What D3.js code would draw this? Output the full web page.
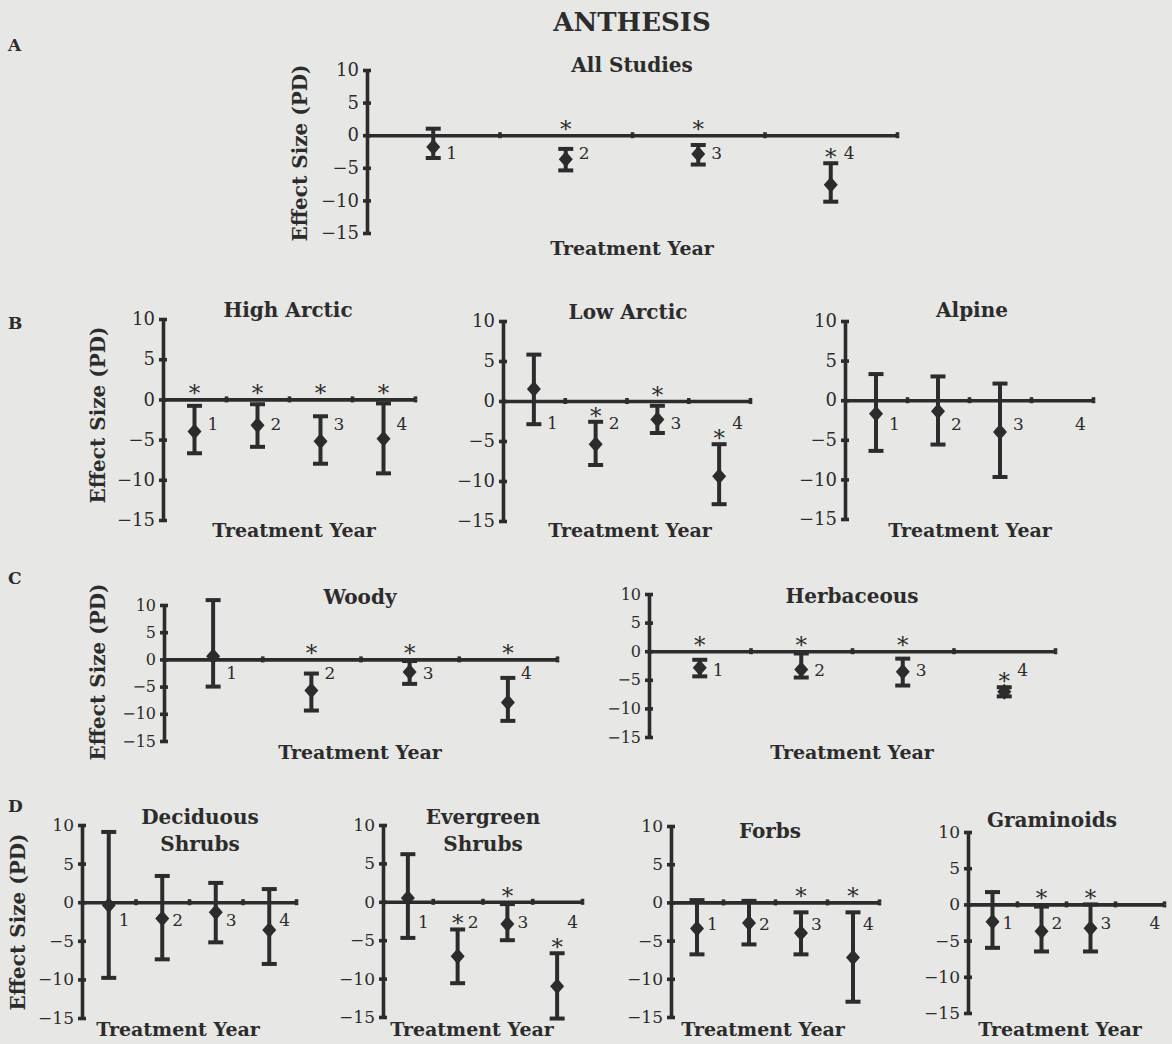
<!DOCTYPE html>
<html>
<head>
<meta charset="utf-8">
<script src="https://cdn.jsdelivr.net/npm/d3@7"></script>
<style>
  body { margin: 0; background: #e7e7e5; }
  svg { display: block; }
  text { font-family: "DejaVu Serif", "Liberation Serif", serif; fill: #2c2c2c; }
</style>
</head>
<body>
<svg id="chart" width="1172" height="1044"></svg>
<script>
// treatment years and y tick values
var years = [1, 2, 3, 4];
var yTicks = [10, 5, 0, -5, -10, -15];

// rows: [year, mean, lower, upper, star]
// star: 0 = none, 1 = above the bar, 2 = above the zero line
var allStudies = [[1, -1.8, -3.5, 1.0, 0], [2, -3.7, -5.4, -2.1, 2], [3, -2.9, -4.5, -1.5, 2], [4, -7.6, -10.2, -4.3, 1]];
var highArctic = [[1, -4.0, -6.7, -0.8, 2], [2, -3.2, -5.9, -0.6, 2], [3, -5.2, -8.0, -2.1, 2], [4, -4.9, -9.2, -0.5, 2]];
var lowArctic = [[1, 1.5, -2.9, 5.8, 0], [2, -5.4, -8.0, -2.6, 1], [3, -2.3, -4.0, -0.6, 2], [4, -9.4, -12.9, -5.4, 1]];
var alpine = [[1, -1.7, -6.4, 3.3, 0], [2, -1.4, -5.6, 3.0, 0], [3, -4.0, -9.7, 2.1, 0]];
var woody = [[1, 0.6, -5.0, 10.9, 0], [2, -5.7, -9.4, -2.6, 2], [3, -2.3, -4.5, -0.3, 2], [4, -7.9, -11.3, -3.4, 2]];
var herbaceous = [[1, -2.9, -4.4, -1.5, 2], [2, -3.2, -4.6, -0.4, 2], [3, -3.6, -6.0, -1.3, 2], [4, -7.1, -7.9, -6.3, 1]];
var deciduousShrubs = [[1, -0.4, -9.8, 9.1, 0], [2, -2.1, -7.4, 3.4, 0], [3, -1.3, -5.2, 2.5, 0], [4, -3.6, -8.0, 1.7, 0]];
var evergreenShrubs = [[1, 0.5, -4.7, 6.2, 0], [2, -7.1, -10.6, -3.6, 1], [3, -2.9, -5.0, -0.3, 2], [4, -11.0, -15.2, -6.7, 1]];
var forbs = [[1, -3.4, -6.8, 0.3, 0], [2, -2.7, -5.5, 0.2, 0], [3, -4.0, -6.8, -1.3, 2], [4, -7.2, -13.0, -1.3, 2]];
var graminoids = [[1, -2.4, -6.0, 1.7, 0], [2, -3.7, -6.5, -0.3, 2], [3, -3.3, -6.5, 0.0, 2]];

var ink = "#2c2c2c";

// panel layout (pixel positions)
var panels = [
  { data: allStudies, title: ["All Studies"], tx: 632, ty: 72, x0: 367, x1: 897, yTop: 70, yBot: 233,
    xt: 632, xty: 255, ylab: [300, 153], labY: -2.8, fs: 18 },
  { data: highArctic, title: ["High Arctic"], tx: 288, ty: 317, x0: 163, x1: 415, yTop: 319, yBot: 520,
    xt: 294, xty: 537, ylab: [98, 415], labY: -3.0, fs: 18 },
  { data: lowArctic, title: ["Low Arctic"], tx: 628, ty: 319, x0: 503, x1: 750, yTop: 321, yBot: 521,
    xt: 630, xty: 537, labY: -2.8, fs: 18 },
  { data: alpine, title: ["Alpine"], tx: 972, ty: 317, x0: 845, x1: 1093, yTop: 321, yBot: 519,
    xt: 970, xty: 537, labY: -3.0, fs: 18 },
  { data: woody, title: ["Woody"], tx: 360, ty: 604, x0: 164, x1: 557, yTop: 605, yBot: 741,
    xt: 360, xty: 759, ylab: [98, 672], labY: -2.5, fs: 16 },
  { data: herbaceous, title: ["Herbaceous"], tx: 852, ty: 603, x0: 649, x1: 1055, yTop: 594, yBot: 737,
    xt: 852, xty: 759, labY: -3.2, fs: 16 },
  { data: deciduousShrubs, title: ["Deciduous", "Shrubs"], tx: 200, ty: 824, x0: 82, x1: 296, yTop: 825, yBot: 1018,
    xt: 178, xty: 1036, ylab: [18, 922], labY: -2.3, fs: 17 },
  { data: evergreenShrubs, title: ["Evergreen", "Shrubs"], tx: 483, ty: 824, x0: 383, x1: 582, yTop: 825, yBot: 1017,
    xt: 472, xty: 1036, labY: -2.6, fs: 17 },
  { data: forbs, title: ["Forbs"], tx: 770, ty: 838, x0: 671, x1: 879, yTop: 826, yBot: 1017,
    xt: 763, xty: 1036, labY: -2.8, fs: 17 },
  { data: graminoids, title: ["Graminoids"], tx: 1052, ty: 827, x0: 968, x1: 1164, yTop: 832, yBot: 1013,
    xt: 1060, xty: 1036, labY: -2.6, fs: 17 }
];

var svg = d3.select("#chart");

svg.append("text")
  .attr("x", 632).attr("y", 31)
  .attr("text-anchor", "middle")
  .style("font-size", "26px").style("font-weight", "bold")
  .text("ANTHESIS");

// panel letters
[["A", 51], ["B", 329], ["C", 584], ["D", 812]].forEach(function(l) {
  svg.append("text")
    .attr("x", 8).attr("y", l[1])
    .style("font-size", "17px").style("font-weight", "bold")
    .text(l[0]);
});

panels.forEach(function(p) {
  var g = svg.append("g");
  var x = d3.scaleLinear().domain([0, 4]).range([p.x0, p.x1]);
  var y = d3.scaleLinear().domain([-15, 10]).range([p.yBot, p.yTop]);

  // y axis
  var yAxis = g.append("g")
    .attr("transform", "translate(" + p.x0 + ",0)")
    .call(d3.axisLeft(y).tickValues(yTicks).tickSizeInner(4).tickSizeOuter(0).tickPadding(4)
      .tickFormat(d3.format("d")));
  yAxis.selectAll(".tick").append("line").attr("x2", 4);
  yAxis.selectAll("path, line").style("stroke", ink).style("stroke-width", 3.6);
  yAxis.selectAll("text")
    .style("font-size", p.fs + "px")
    .style("font-family", "DejaVu Serif, serif")
    .style("fill", ink);

  // x axis on the zero line
  var xAxis = g.append("g")
    .attr("transform", "translate(0," + y(0) + ")")
    .call(d3.axisBottom(x).tickValues(years).tickFormat("").tickSizeInner(3).tickSizeOuter(0));
  xAxis.selectAll(".tick").append("line").attr("y2", -3);
  xAxis.selectAll("path, line").style("stroke", ink).style("stroke-width", 3.6);

  // error bars
  var bar = g.selectAll(".bar").data(p.data).enter().append("g")
    .attr("class", "bar");
  bar.append("line")
    .attr("x1", function(d) { return x(d[0] - 0.5); })
    .attr("x2", function(d) { return x(d[0] - 0.5); })
    .attr("y1", function(d) { return y(d[2]); })
    .attr("y2", function(d) { return y(d[3]); })
    .style("stroke", ink).style("stroke-width", 4);
  [2, 3].forEach(function(k) {
    bar.append("line")
      .attr("x1", function(d) { return x(d[0] - 0.5) - 7.5; })
      .attr("x2", function(d) { return x(d[0] - 0.5) + 7.5; })
      .attr("y1", function(d) { return y(d[k]); })
      .attr("y2", function(d) { return y(d[k]); })
      .style("stroke", ink).style("stroke-width", 4);
  });
  bar.append("path")
    .attr("d", "M0,-8L7,0L0,8L-7,0Z")
    .attr("transform", function(d) { return "translate(" + x(d[0] - 0.5) + "," + y(d[1]) + ")"; })
    .style("fill", ink);

  // significance stars
  g.selectAll(".star").data(p.data.filter(function(d) { return d[4] > 0; })).enter().append("text")
    .attr("x", function(d) { return x(d[0] - 0.5); })
    .attr("y", function(d) { return (d[4] === 1 ? y(d[3]) : y(0)) + 2; })
    .attr("text-anchor", "middle")
    .style("font-size", "23px")
    .text("*");

  // year numbers
  g.selectAll(".yr").data(years).enter().append("text")
    .attr("x", function(d) { return x(d - 0.5) + (p.fs === 17 ? 10 : 13); })
    .attr("y", function(d) { return y(p.labY) + 6; })
    .style("font-size", "17px")
    .text(function(d) { return d; });

  // titles
  p.title.forEach(function(t, i) {
    g.append("text")
      .attr("x", p.tx).attr("y", p.ty + i * 27)
      .attr("text-anchor", "middle")
      .style("font-size", "20px").style("font-weight", "bold")
      .text(t);
  });

  g.append("text")
    .attr("x", p.xt).attr("y", p.xty)
    .attr("text-anchor", "middle")
    .style("font-size", "19px").style("font-weight", "bold")
    .text("Treatment Year");

  if (p.ylab) {
    g.append("text")
      .attr("transform", "translate(" + (p.ylab[0] + 7) + "," + p.ylab[1] + ") rotate(-90)")
      .attr("text-anchor", "middle")
      .style("font-size", "20px").style("font-weight", "bold")
      .text("Effect Size (PD)");
  }
});
</script>
</body>
</html>
